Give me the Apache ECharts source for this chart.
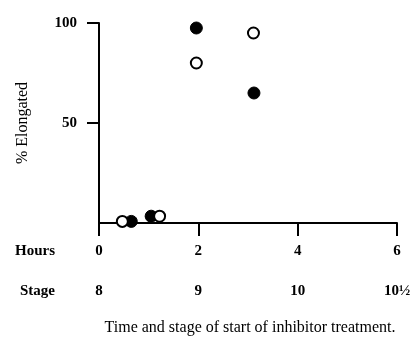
<!DOCTYPE html>
<html>
<head>
<meta charset="utf-8">
<script src="https://cdn.jsdelivr.net/npm/echarts@6/dist/echarts.min.js"></script>
<style>html,body{margin:0;padding:0;background:#fff;}#chart{width:416px;height:338px;}</style>
</head>
<body>
<div id="chart"></div>
<script>
var filledHours = [0.65, 1.05, 1.96, 3.12];
var filledPct = [0.8, 3.4, 97.5, 65];
var openHours = [0.47, 1.22, 1.96, 3.11];
var openPct = [0.8, 3.4, 80, 95];
var hourTicks = [0, 2, 4, 6];
var stageLabels = ['8', '9', '10', '10\u00BD'];
var pctTicks = [50, 100];

var FONT = '"Liberation Serif", "DejaVu Serif", serif';
function pairs(xs, ys) { return xs.map(function (x, i) { return [x, ys[i]]; }); }

var chart = echarts.init(document.getElementById('chart'), null, { renderer: 'canvas' });
chart.setOption({
  animation: false,
  backgroundColor: '#fff',
  title: {
    text: 'Time and stage of start of inhibitor treatment.',
    left: 250, top: 320, textAlign: 'center', padding: 0,
    textStyle: { fontFamily: FONT, fontSize: 16, fontWeight: 'normal', color: '#000' }
  },
  grid: { left: 99, right: 19, top: 23, bottom: 115 },
  xAxis: [{
    type: 'value', min: 0, max: 6, interval: 2, position: 'bottom',
    name: 'Hours', nameLocation: 'start', nameGap: 44,
    nameTextStyle: { fontFamily: FONT, fontSize: 15, fontWeight: 'bold', color: '#000', verticalAlign: 'top', padding: [21, 0, 0, 0] },
    axisLine: { show: true, onZero: false, lineStyle: { color: '#000', width: 2 } },
    axisTick: { show: true, inside: false, length: 13, lineStyle: { color: '#000', width: 2 } },
    axisLabel: { margin: 21, fontFamily: FONT, fontSize: 15, fontWeight: 'bold', color: '#000', customValues: hourTicks },
    splitLine: { show: false }
  }, {
    type: 'value', min: 0, max: 6, interval: 2, position: 'bottom', offset: 40,
    name: 'Stage', nameLocation: 'start', nameGap: 44,
    nameTextStyle: { fontFamily: FONT, fontSize: 15, fontWeight: 'bold', color: '#000', verticalAlign: 'top', padding: [61, 0, 0, 0] },
    axisLine: { show: false },
    axisTick: { show: false },
    axisLabel: {
      margin: 21, fontFamily: FONT, fontSize: 15, fontWeight: 'bold', color: '#000',
      formatter: function (v) { var i = hourTicks.indexOf(v); return i >= 0 ? stageLabels[i] : ''; }
    },
    splitLine: { show: false }
  }],
  yAxis: {
    type: 'value', min: 0, max: 100, interval: 50,
    name: '% Elongated', nameLocation: 'middle', nameGap: 68, nameRotate: 90,
    nameTextStyle: { fontFamily: FONT, fontSize: 16, color: '#000' },
    axisLine: { show: true, lineStyle: { color: '#000', width: 2 } },
    axisTick: { show: true, inside: false, length: 12, customValues: pctTicks, lineStyle: { color: '#000', width: 2 } },
    axisLabel: { margin: 22, fontFamily: FONT, fontSize: 15, fontWeight: 'bold', color: '#000', customValues: pctTicks },
    splitLine: { show: false }
  },
  series: [{
    name: 'filled', type: 'scatter', xAxisIndex: 0, symbol: 'circle', symbolSize: 12,
    itemStyle: { color: '#000', borderColor: '#000', borderWidth: 1, opacity: 1 },
    data: pairs(filledHours, filledPct), z: 3
  }, {
    name: 'open', type: 'scatter', xAxisIndex: 0, symbol: 'circle', symbolSize: 11,
    itemStyle: { color: '#fff', borderColor: '#000', borderWidth: 2, opacity: 1 },
    data: pairs(openHours, openPct), z: 4
  }]
});
</script>
</body>
</html>
